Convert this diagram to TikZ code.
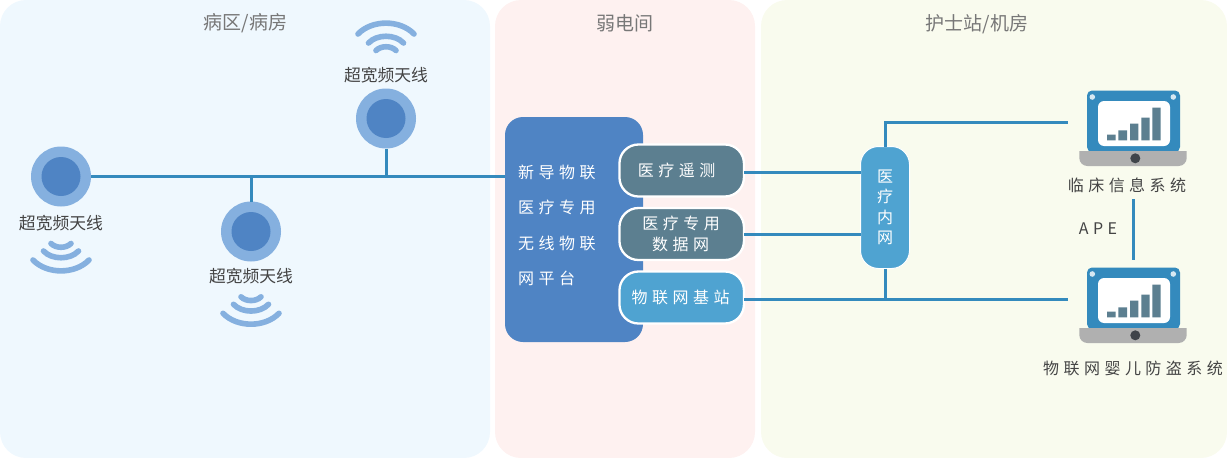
\documentclass[tikz,border=0pt]{standalone}
\usepackage{fontspec}
\setmainfont{Noto Sans CJK SC}
\newfontfamily\spaced[LetterSpace=28]{Noto Sans CJK SC}
\usetikzlibrary{calc}
\definecolor{panelA}{HTML}{EFF8FE}
\definecolor{panelB}{HTML}{FEF1F0}
\definecolor{panelC}{HTML}{F9FBEE}
\definecolor{lineblue}{HTML}{348ABD}
\definecolor{ringblue}{HTML}{85B0DF}
\definecolor{coreblue}{HTML}{4F84C4}
\definecolor{slate}{HTML}{5C7F90}
\definecolor{skyblue}{HTML}{4FA3D1}
\definecolor{titlegrey}{HTML}{777777}
\definecolor{labelgrey}{HTML}{444444}
\definecolor{lens}{HTML}{3F444A}
\tikzset{
  panel/.style={rectangle,rounded corners=26pt,anchor=north west,inner sep=0pt,outer sep=0pt},
  paneltitle/.style={inner sep=0pt,text=titlegrey,font=\fontsize{19}{21}\selectfont},
  ring/.style={circle,fill=ringblue,minimum size=60pt,inner sep=0pt,outer sep=0pt},
  ringlabel/.style={inner sep=0pt,text=labelgrey,font=\fontsize{16.8}{20}\selectfont},
  link/.style={draw=lineblue,line width=3pt},
  module/.style={rectangle,rounded corners=19pt,draw=white,line width=2.3pt,minimum width=124.5pt,minimum height=52pt,inner sep=0pt,outer sep=0pt,text=white,align=center,font=\fontsize{16}{21}\selectfont\spaced},
  syslabel/.style={inner sep=0pt,text=labelgrey,font=\fontsize{16}{20}\selectfont\spaced},
  wifi/.pic={
    \draw[ringblue,line width=5.6pt,line cap=round]
      (-28,84) .. controls (-14,98.5) and (14,98.5) .. (28,84)
      (-17.5,75) .. controls (-9,84) and (9,84) .. (17.5,75)
      (-10,67.5) .. controls (-5,72.5) and (5,72.5) .. (10,67.5);
  },
  laptop/.pic={
    \fill[lineblue,rounded corners=5pt] (-46,-31.5) rectangle (47,30);
    \fill[white,rounded corners=6pt] (-35,-21) rectangle (37,24);
    \fill[white!80!lineblue] (-40.7,-25) circle (2.8pt) (40.3,-25) circle (2.8pt);
    \fill[slate] (-26,18.3) rectangle (-17.3,12.7)
                 (-14.7,18.3) rectangle (-6,8.3)
                 (-3,18.3) rectangle (5.3,1.7)
                 (8.3,18.3) rectangle (16.7,-4.3)
                 (19.3,18.3) rectangle (27.7,-14.3);
    \fill[black!31] (-53.7,29) -- (53.7,29) [rounded corners=8pt] -- (53.7,44) -- (-53.7,44) [sharp corners] -- cycle;
    \fill[lens] (2.3,36.3) circle (5pt);
  }
}
\begin{document}
\begin{tikzpicture}[x=1pt,y=-1pt]
\useasboundingbox (0,0) rectangle (1227,458);
% panels
\node[panel,fill=panelA,minimum width=490pt,minimum height=458pt] (ward) at (0,0) {};
\node[panel,fill=panelB,minimum width=260pt,minimum height=458pt] (weak) at (495,0) {};
\node[panel,fill=panelC,minimum width=466pt,minimum height=458pt] (nurse) at (761,0) {};
\node[paneltitle] (t1) at (245.5,23) {病区/病房};
\node[paneltitle] (t2) at (624.5,23) {弱电间};
\node[paneltitle] (t3) at (977,24) {护士站/机房};
% antennas
\node[ring] (ant1) at (61,176.5) {};
\node[ring] (ant2) at (251,231.5) {};
\node[ring] (ant3) at (386,118.5) {};
\node[circle,fill=coreblue,minimum size=39pt,inner sep=0pt] (core1) at (ant1) {};
\node[circle,fill=coreblue,minimum size=39pt,inner sep=0pt] (core2) at (ant2) {};
\node[circle,fill=coreblue,minimum size=39pt,inner sep=0pt] (core3) at (ant3) {};
\node[ringlabel] (al1) at (61,223) {超宽频天线};
\node[ringlabel] (al2) at (251,276.5) {超宽频天线};
\node[ringlabel] (al3) at (386,75) {超宽频天线};
\pic at (61,176) {wifi};
\pic at (251,229.3) {wifi};
\pic[yscale=-1] at (386,118) {wifi};
% platform
\node[rectangle,rounded corners=18pt,fill=coreblue,minimum width=138pt,minimum height=225pt,inner sep=0pt,outer sep=0pt,anchor=north west] (plat) at (505,117) {};
\node[anchor=west,inner sep=0pt,align=left,text=white,font=\fontsize{16}{35.5}\selectfont\spaced] (plattext) at (518,225.5) {新导物联\\医疗专用\\无线物联\\网平台};
\node[module,fill=slate] (m1) at (681.7,170.5) {医疗遥测\hspace*{10pt}};
\node[module,fill=slate] (m2) at (681.7,234) {医疗专用\hspace*{1pt}\\数据网\hspace*{2pt}};
\node[module,fill=skyblue] (m3) at (681.7,297.5) {物联网基站\hspace*{2pt}};
% intranet
\node[rectangle,rounded corners=18pt,fill=skyblue,draw=white,line width=1pt,minimum width=49pt,minimum height=122pt,inner sep=0pt,outer sep=0pt,text=white,align=center,font=\fontsize{16}{20.4}\selectfont] (net) at (885,207.5) {医\\疗\\内\\网};
% laptops
\node[minimum width=130pt,minimum height=1pt,inner sep=0pt,outer sep=0pt] (lap1) at (1133,122) {};
\node[minimum width=130pt,minimum height=1pt,inner sep=0pt,outer sep=0pt] (lap2) at (1133,299) {};
\pic at (lap1) {laptop};
\pic at (lap2) {laptop};
\node[syslabel] (s1) at (1127,185) {临床信息系统};
\node[syslabel] (s2) at (1133,368) {物联网婴儿防盗系统};
\node[syslabel] (ape) at (1098,229) {APE};
\coordinate (apeT) at (1133,199);
\coordinate (apeB) at (1133,260);
\coordinate (r1) at (800,172);
\coordinate (r2) at (800,234);
\coordinate (r3) at (800,299);
\coordinate (up) at (885,122);
% connectors
\draw[link] (ant1.east) -- (plat.west |- ant1);
\draw[link] (ant2.north) -- (ant2 |- ant1);
\draw[link] (ant3.south) -- (ant3 |- ant1);
\draw[link] (r1 -| m1.east) -- (r1 -| net.west);
\draw[link] (r2 -| m2.east) -- (r2 -| net.west);
\draw[link] (r3 -| m3.east) -- (lap2.west);
\draw[link] (net.south) -- (net |- lap2);
\draw[link] (net.north) -- (up) -- (lap1.west);
\draw[link] (apeT) -- (apeB);
\end{tikzpicture}
\end{document}
